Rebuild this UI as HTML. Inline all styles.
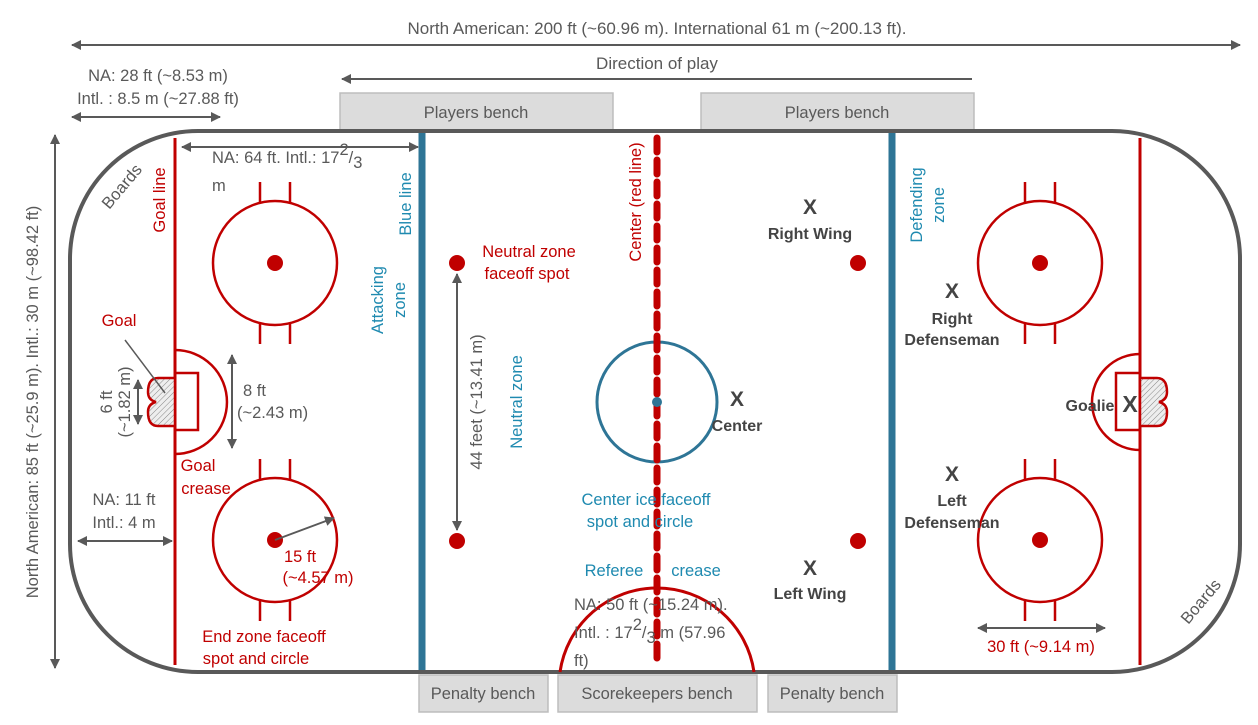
<!DOCTYPE html>
<html><head><meta charset="utf-8"><style>
body{margin:0;background:#fff}
svg{display:block;font-family:"Liberation Sans",sans-serif}
.g{fill:#595959;font-size:16.5px}
.r{fill:#c00000;font-size:16.5px}
.b{fill:#1f8ab0;font-size:16.5px}
.k{fill:#444;font-size:16px;font-weight:bold}
</style></head><body>
<svg width="1258" height="725" viewBox="0 0 1258 725">
<defs>
<marker id="a" markerWidth="10" markerHeight="10" refX="9" refY="5" orient="auto-start-reverse" markerUnits="userSpaceOnUse"><path d="M0,0 L10,5 L0,10 z" fill="#595959"/></marker>
<pattern id="h" width="4" height="4" patternUnits="userSpaceOnUse" patternTransform="rotate(45)"><rect width="4" height="4" fill="#eee"/><line x1="0" y1="0" x2="0" y2="4" stroke="#888" stroke-width="1"/></pattern>
</defs>
<text x="657" y="34" class="g" text-anchor="middle" style="font-size:17px">North American: 200 ft (~60.96 m). International 61 m (~200.13 ft).</text>
<line x1="72" y1="45" x2="1240" y2="45" stroke="#595959" stroke-width="2" marker-start="url(#a)" marker-end="url(#a)"/>
<text x="657" y="69" class="g" text-anchor="middle" style="font-size:17px">Direction of play</text>
<line x1="972" y1="79" x2="342" y2="79" stroke="#595959" stroke-width="2" marker-end="url(#a)"/>
<text x="158" y="81" class="g" text-anchor="middle">NA: 28 ft (~8.53 m)</text>
<text x="158" y="104" class="g" text-anchor="middle">Intl. : 8.5 m (~27.88 ft)</text>
<line x1="72" y1="117" x2="220" y2="117" stroke="#595959" stroke-width="2" marker-start="url(#a)" marker-end="url(#a)"/>
<g fill="#dcdcdc" stroke="#bdbdbd" stroke-width="1.5">
<rect x="340" y="93" width="273" height="37"/><rect x="701" y="93" width="273" height="37"/>
<rect x="419" y="675" width="129" height="37"/><rect x="558" y="675" width="199" height="37"/><rect x="768" y="675" width="129" height="37"/>
</g>
<g class="g" text-anchor="middle" style="font-size:16.5px">
<text x="476" y="118">Players bench</text><text x="837" y="118">Players bench</text>
<text x="483" y="699">Penalty bench</text><text x="657" y="699">Scorekeepers bench</text><text x="832" y="699">Penalty bench</text>
</g>
<rect x="70" y="131" width="1170" height="541" rx="128" fill="#fff" stroke="#595959" stroke-width="4"/>
<line x1="175" y1="138" x2="175" y2="665" stroke="#c00000" stroke-width="3"/>
<line x1="1140" y1="138" x2="1140" y2="665" stroke="#c00000" stroke-width="3"/>
<line x1="422" y1="133" x2="422" y2="670" stroke="#2e7596" stroke-width="7"/>
<line x1="892" y1="133" x2="892" y2="670" stroke="#2e7596" stroke-width="7"/>
<path d="M560,672 A98,98 0 0 1 754,672" fill="none" stroke="#c00000" stroke-width="3"/>
<circle cx="657" cy="402" r="60" fill="none" stroke="#2e7596" stroke-width="3"/>
<line x1="657" y1="138" x2="657" y2="660" stroke="#c00000" stroke-width="7" stroke-dasharray="14,8" stroke-linecap="round"/>
<circle cx="657" cy="402" r="5" fill="#2e7596"/>
<g fill="none" stroke="#c00000" stroke-width="2.5">
<circle cx="275" cy="263" r="62"/><circle cx="275" cy="540" r="62"/>
<circle cx="1040" cy="263" r="62"/><circle cx="1040" cy="540" r="62"/>
<path d="M260,182v20M290,182v20M260,324v20M290,324v20"/>
<path d="M260,459v20M290,459v20M260,601v20M290,601v20"/>
<path d="M1025,182v20M1055,182v20M1025,324v20M1055,324v20"/>
<path d="M1025,459v20M1055,459v20M1025,601v20M1055,601v20"/>
<path d="M175,350 A52,52 0 0 1 175,454"/><rect x="175" y="373" width="23" height="57"/>
<path d="M1140,354 A48,48 0 0 0 1140,450"/><rect x="1116" y="373" width="24" height="57"/>
</g>
<g fill="#c00000">
<circle cx="275" cy="263" r="8"/><circle cx="275" cy="540" r="8"/><circle cx="1040" cy="263" r="8"/><circle cx="1040" cy="540" r="8"/>
<circle cx="457" cy="263" r="8"/><circle cx="457" cy="541" r="8"/><circle cx="858" cy="263" r="8"/><circle cx="858" cy="541" r="8"/>
</g>
<path d="M175,378 H158 Q148,378 148,392 Q148,400 156,402 Q148,404 148,412 Q148,426 158,426 H175 Z" fill="url(#h)" stroke="#c00000" stroke-width="2.5"/>
<path d="M1140,378 H1157 Q1167,378 1167,392 Q1167,400 1159,402 Q1167,404 1167,412 Q1167,426 1157,426 H1140 Z" fill="url(#h)" stroke="#c00000" stroke-width="2.5"/>
<g stroke="#595959" stroke-width="2" fill="none">
<line x1="182" y1="147" x2="418" y2="147" marker-start="url(#a)" marker-end="url(#a)"/>
<line x1="232" y1="355" x2="232" y2="448" marker-start="url(#a)" marker-end="url(#a)"/>
<line x1="138" y1="380" x2="138" y2="424" marker-start="url(#a)" marker-end="url(#a)"/>
<line x1="78" y1="541" x2="172" y2="541" marker-start="url(#a)" marker-end="url(#a)"/>
<line x1="275" y1="540" x2="334" y2="518" marker-end="url(#a)"/>
<line x1="457" y1="274" x2="457" y2="530" marker-start="url(#a)" marker-end="url(#a)"/>
<line x1="978" y1="628" x2="1105" y2="628" marker-start="url(#a)" marker-end="url(#a)"/>
<line x1="55" y1="135" x2="55" y2="668" marker-start="url(#a)" marker-end="url(#a)"/>
<line x1="125" y1="340" x2="165" y2="393" stroke-width="1.5"/>
</g>
<text x="212" y="163" class="g">NA: 64 ft. Intl.: 17<tspan dy="-8">2</tspan><tspan dy="8">/</tspan><tspan dy="5">3</tspan></text>
<text x="212" y="191" class="g">m</text>
<text x="243" y="396" class="g">8 ft</text><text x="237" y="418" class="g">(~2.43 m)</text>
<text transform="translate(112,402) rotate(-90)" class="g" text-anchor="middle">6 ft</text>
<text transform="translate(130,402) rotate(-90)" class="g" text-anchor="middle">(~1.82 m)</text>
<text x="124" y="505" class="g" text-anchor="middle">NA: 11 ft</text><text x="124" y="528" class="g" text-anchor="middle">Intl.: 4 m</text>
<text transform="translate(38,402) rotate(-90)" class="g" text-anchor="middle">North American: 85 ft (~25.9 m). Intl.: 30 m (~98.42 ft)</text>
<text transform="translate(482,402) rotate(-90)" class="g" text-anchor="middle">44 feet (~13.41 m)</text>
<text x="574" y="610" class="g">NA: 50 ft (~15.24 m).</text>
<text x="574" y="638" class="g">Intl. : 17<tspan dy="-8">2</tspan><tspan dy="8">/</tspan><tspan dy="5">3</tspan><tspan dy="-5"> m (57.96</tspan></text>
<text x="574" y="666" class="g">ft)</text>
<text transform="translate(126,190) rotate(-50)" class="g" text-anchor="middle">Boards</text>
<text transform="translate(1205,605) rotate(-50)" class="g" text-anchor="middle">Boards</text>
<text transform="translate(165,200) rotate(-90)" class="r" text-anchor="middle">Goal line</text>
<text x="119" y="326" class="r" text-anchor="middle">Goal</text>
<text x="198" y="471" class="r" text-anchor="middle">Goal</text><text x="206" y="494" class="r" text-anchor="middle">crease</text>
<text x="300" y="562" class="r" text-anchor="middle">15 ft</text><text x="318" y="583" class="r" text-anchor="middle">(~4.57 m)</text>
<text x="264" y="642" class="r" text-anchor="middle">End zone faceoff</text><text x="256" y="664" class="r" text-anchor="middle">spot and circle</text>
<text x="529" y="257" class="r" text-anchor="middle">Neutral zone</text><text x="527" y="279" class="r" text-anchor="middle">faceoff spot</text>
<text x="1041" y="652" class="r" text-anchor="middle">30 ft (~9.14 m)</text>
<text transform="translate(641,202) rotate(-90)" class="r" text-anchor="middle" style="paint-order:stroke;stroke:#fff;stroke-width:3">Center (red line)</text>
<text transform="translate(411,204) rotate(-90)" class="b" text-anchor="middle">Blue line</text>
<text transform="translate(383,300) rotate(-90)" class="b" text-anchor="middle">Attacking</text>
<text transform="translate(405,300) rotate(-90)" class="b" text-anchor="middle">zone</text>
<text transform="translate(522,402) rotate(-90)" class="b" text-anchor="middle">Neutral zone</text>
<text transform="translate(922,205) rotate(-90)" class="b" text-anchor="middle">Defending</text>
<text transform="translate(944,205) rotate(-90)" class="b" text-anchor="middle">zone</text>
<text x="646" y="505" class="b" text-anchor="middle">Center ice faceoff</text><text x="640" y="527" class="b" text-anchor="middle">spot and circle</text>
<text x="614" y="576" class="b" text-anchor="middle">Referee</text><text x="696" y="576" class="b" text-anchor="middle">crease</text>
<g class="k" text-anchor="middle">
<text x="810" y="214" style="font-size:21px">X</text><text x="810" y="239">Right Wing</text>
<text x="952" y="298" style="font-size:21px">X</text><text x="952" y="324">Right</text><text x="952" y="345">Defenseman</text>
<text x="737" y="406" style="font-size:21px">X</text><text x="737" y="431">Center</text>
<text x="952" y="481" style="font-size:21px">X</text><text x="952" y="506">Left</text><text x="952" y="528">Defenseman</text>
<text x="810" y="575" style="font-size:21px">X</text><text x="810" y="599">Left Wing</text>
<text x="1090" y="411">Goalie</text><text x="1130" y="412" style="font-size:23px">X</text>
</g>
</svg>
</body></html>
